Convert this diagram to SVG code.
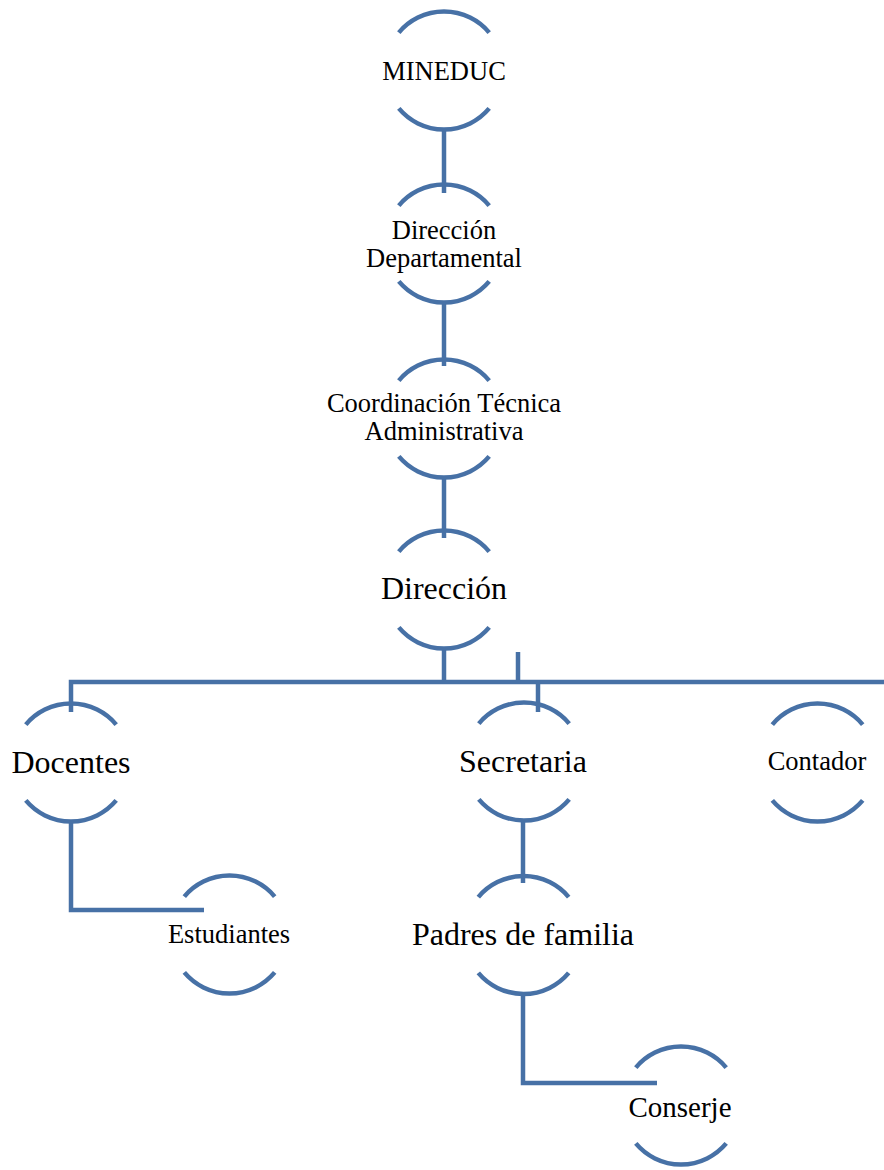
<svg xmlns="http://www.w3.org/2000/svg" xmlns:xlink="http://www.w3.org/1999/xlink" width="884" height="1170" viewBox="0 0 884 1170">
  <style>
    .ln { fill: none; stroke: #4771A6; stroke-width: 4.5; stroke-linecap: butt; stroke-linejoin: miter; }
    .t { font-family: "Liberation Serif", "Times New Roman", serif; fill: #000; text-anchor: middle; }
    .s { font-size: 26.5px; }
    .m { font-size: 29px; }
    .l { font-size: 32px; }
  </style>
  <defs>
    <path id="ring" class="ln" d="M -45.2 -37.9 A 59 59 0 0 1 45.2 -37.9 M -45.2 37.9 A 59 59 0 0 0 45.2 37.9"/>
  </defs>
  <rect width="884" height="1170" fill="#ffffff"/>

  <g id="connectors" class="ln">
    <path d="M 444 130 V 193"/>
    <path d="M 444 302 V 366"/>
    <path d="M 444 477 V 538"/>
    <path d="M 444 648 V 682"/>
    <path d="M 518 652 V 682"/>
    <path d="M 71 712 V 682 H 884"/>
    <path d="M 538 682 V 712"/>
    <path d="M 71 821 V 910 H 204"/>
    <path d="M 523 820 V 883"/>
    <path d="M 523 993 V 1083 H 657"/>
  </g>

  <g id="mineduc">
    <use xlink:href="#ring" href="#ring" x="444" y="70.5"/>
    <text class="t s" x="444" y="80">MINEDUC</text>
  </g>
  <g id="direccion-departamental">
    <use xlink:href="#ring" href="#ring" x="444" y="243.5"/>
    <text class="t s" x="444" y="239">Dirección</text>
    <text class="t s" x="444" y="267">Departamental</text>
  </g>
  <g id="coordinacion">
    <use xlink:href="#ring" href="#ring" x="444" y="418.5"/>
    <text class="t s" x="444" y="412">Coordinación Técnica</text>
    <text class="t s" x="444" y="440">Administrativa</text>
  </g>
  <g id="direccion">
    <use xlink:href="#ring" href="#ring" x="444" y="589.5"/>
    <text class="t l" x="444" y="599">Dirección</text>
  </g>
  <g id="docentes">
    <use xlink:href="#ring" href="#ring" x="71" y="762.5"/>
    <text class="t l" x="71" y="773">Docentes</text>
  </g>
  <g id="secretaria">
    <use xlink:href="#ring" href="#ring" x="524" y="761.5"/>
    <text class="t l" x="523" y="772">Secretaria</text>
  </g>
  <g id="contador">
    <use xlink:href="#ring" href="#ring" x="817.5" y="762.5"/>
    <text class="t s" x="817" y="770">Contador</text>
  </g>
  <g id="estudiantes">
    <use xlink:href="#ring" href="#ring" x="229.5" y="934.5"/>
    <text class="t s" x="229" y="943">Estudiantes</text>
  </g>
  <g id="padres">
    <use xlink:href="#ring" href="#ring" x="523.5" y="935"/>
    <text class="t l" x="523" y="945">Padres de familia</text>
  </g>
  <g id="conserje">
    <use xlink:href="#ring" href="#ring" x="681" y="1105.5"/>
    <text class="t m" x="680" y="1117">Conserje</text>
  </g>
</svg>
